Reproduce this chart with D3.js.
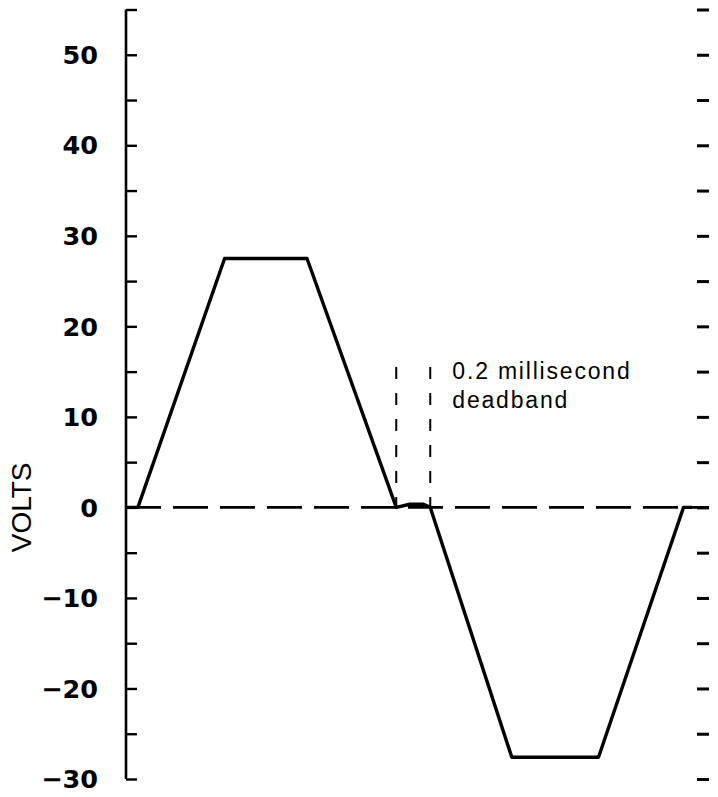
<!DOCTYPE html>
<html>
<head>
<meta charset="utf-8">
<script src="https://cdn.jsdelivr.net/npm/d3@7"></script>
<style>
html, body { margin: 0; padding: 0; background: #fff; }
svg { display: block; }
</style>
</head>
<body>
<svg id="chart" width="718" height="797"></svg>
<script>
// ---- data ----
const timeMs = [0, 0.07, 0.58, 1.065, 1.59, 1.67, 1.75, 1.79, 2.27, 2.78, 3.28, 3.33];
const volts  = [0, 0, 27.5, 27.5, 0, 0.35, 0.35, 0, -27.6, -27.6, 0, 0];
const labelTicks = [50, 40, 30, 20, 10, 0, -10, -20, -30];
const tickLabels = ["50", "40", "30", "20", "10", "0", "\u221210", "\u221220", "\u221230"];
const allTicks = [55, 50, 45, 40, 35, 30, 25, 20, 15, 10, 5, 0, -5, -10, -15, -20, -25, -30];
const deadbandMs = [1.59, 1.79];
const deadbandTopV = 15.5;
const annotation = ["0.2 millisecond", "deadband"];
const yTitle = "VOLTS";

// ---- scales ----
const svg = d3.select("#chart");
const x = d3.scaleLinear().domain([0, 3.43]).range([126, 709]);
const y = d3.scaleLinear().domain([-30, 55]).range([779, 9.5]);

// left axis
const left = svg.append("g").attr("transform", `translate(${x(0)},0)`)
  .call(d3.axisRight(y).tickValues(allTicks).tickSize(11).tickFormat(""));
left.select(".domain").attr("d", `M0,${y(55)}V${y(-30)}`).attr("stroke", "#000").attr("stroke-width", 2.6);
left.selectAll(".tick line").attr("stroke", "#000").attr("stroke-width", 2.4);

// right ticks (no line)
const right = svg.append("g").attr("transform", `translate(${x(3.43)},0)`)
  .call(d3.axisLeft(y).tickValues(allTicks).tickSize(12).tickFormat(""));
right.select(".domain").remove();
right.selectAll(".tick line").attr("stroke", "#000").attr("stroke-width", 3);

// tick labels
svg.append("g").selectAll("text").data(labelTicks).join("text")
  .attr("x", 98).attr("y", d => y(d)).attr("dy", "0.36em")
  .attr("text-anchor", "end")
  .attr("font-family", "DejaVu Sans, sans-serif")
  .attr("font-weight", "bold").attr("font-size", 25.5)
  .attr("fill", "#000")
  .text((d, i) => tickLabels[i]);

// y title
svg.append("text")
  .attr("transform", `translate(31,${y(0)}) rotate(-90)`)
  .attr("text-anchor", "middle")
  .attr("font-family", "Liberation Sans, Arial, sans-serif")
  .attr("font-size", 28).attr("fill", "#000")
  .text(yTitle);

// zero dashed line
svg.append("line")
  .attr("x1", x(0)).attr("x2", x(3.43)).attr("y1", y(0)).attr("y2", y(0))
  .attr("stroke", "#000").attr("stroke-width", 2.6)
  .attr("stroke-dasharray", "35,12");

// deadband verticals
svg.append("g").selectAll("line").data(deadbandMs).join("line")
  .attr("x1", d => x(d)).attr("x2", d => x(d))
  .attr("y1", y(deadbandTopV)).attr("y2", y(0))
  .attr("stroke", "#000").attr("stroke-width", 2)
  .attr("stroke-dasharray", "12,14");

// waveform
const pts = timeMs.map((t, i) => [t, volts[i]]);
svg.append("path")
  .attr("d", d3.line().x(d => x(d[0])).y(d => y(d[1]))(pts))
  .attr("fill", "none").attr("stroke", "#000")
  .attr("stroke-width", 3.4).attr("stroke-linejoin", "round");

// annotation
svg.append("g").selectAll("text").data(annotation).join("text")
  .attr("x", x(1.92))
  .attr("y", (d, i) => y(14.2) + i * 29)
  .attr("font-family", "Liberation Sans, Arial, sans-serif")
  .attr("font-size", 23).attr("letter-spacing", 1.8).attr("fill", "#000")
  .text(d => d);
</script>
</body>
</html>
